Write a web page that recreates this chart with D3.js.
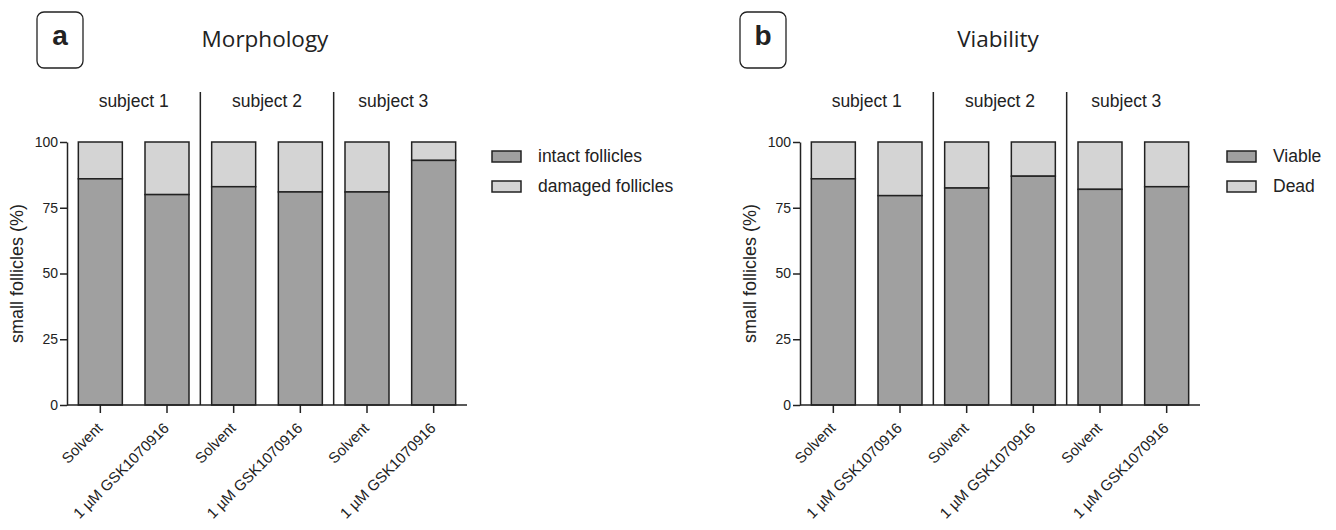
<!DOCTYPE html>
<html>
<head>
<meta charset="utf-8">
<script src="https://cdn.jsdelivr.net/npm/d3@7"></script>
<style>
  body { margin: 0; background: #fff; }
  svg { display: block; }
  text { fill: #222; }
</style>
</head>
<body>
<svg id="chart" width="1336" height="530"></svg>
<script>
// ---- data ----
const categories = ["Solvent", "1 \u00b5M GSK1070916", "Solvent", "1 \u00b5M GSK1070916", "Solvent", "1 \u00b5M GSK1070916"];
const subjects = ["subject 1", "subject 2", "subject 3"];
const yTicks = [0, 25, 50, 75, 100];
const morphIntact = [86, 80, 83, 81, 81, 93];
const viabViable = [86, 79.6, 82.5, 87, 82, 83];
const panelLetters = ["a", "b"];
const panelTitles = ["Morphology", "Viability"];
const legendA = ["intact follicles", "damaged follicles"];
const legendB = ["Viable", "Dead"];
const yLabel = "small follicles (%)";

const dark = "#a0a0a0", light = "#d4d4d4", ink = "#222";
const svg = d3.select("#chart");

function panel(opt) {
  const g = svg.append("g");
  const x0 = opt.x0, x1 = opt.x0 + 400;
  const yTop = 142, yBot = 405;
  const x = d3.scaleBand().domain(d3.range(categories.length)).range([x0, x1]).paddingInner(0.34).paddingOuter(0.17);
  const y = d3.scaleLinear().domain([0, 100]).range([yBot, yTop]);

  // letter box
  g.append("rect").attr("x", opt.boxX).attr("y", 12).attr("width", 46).attr("height", 56)
    .attr("rx", 7).attr("fill", "none").attr("stroke", ink).attr("stroke-width", 1.3);
  g.append("text").attr("x", opt.boxX + 23).attr("y", 45).attr("text-anchor", "middle")
    .attr("font-family", "Liberation Sans, Arial, sans-serif").attr("font-weight", "bold")
    .attr("font-size", 28).text(opt.letter);
  // title
  g.append("text").attr("x", (x0 + x1) / 2 - 2).attr("y", 47).attr("text-anchor", "middle")
    .attr("font-family", "Open Sans, sans-serif").attr("font-size", 22.5).text(opt.title);

  // bars
  const bars = g.append("g");
  opt.values.forEach((v, i) => {
    bars.append("rect").attr("x", x(i)).attr("width", x.bandwidth())
      .attr("y", y(100)).attr("height", y(v) - y(100))
      .attr("fill", light).attr("stroke", ink).attr("stroke-width", 1.5);
    bars.append("rect").attr("x", x(i)).attr("width", x.bandwidth())
      .attr("y", y(v)).attr("height", y(0) - y(v))
      .attr("fill", dark).attr("stroke", ink).attr("stroke-width", 1.5);
  });

  // separators and subject labels
  const step = x.step();
  subjects.forEach((s, k) => {
    const left = x0 + k * 2 * step, right = left + 2 * step;
    if (k > 0) {
      g.append("line").attr("x1", left).attr("x2", left).attr("y1", 92).attr("y2", yBot)
        .attr("stroke", ink).attr("stroke-width", 1.5);
    }
    g.append("text").attr("x", (left + right) / 2 - (k === 2 ? 7 : 0)).attr("y", 107).attr("text-anchor", "middle")
      .attr("font-family", "Liberation Sans, Arial, sans-serif").attr("font-size", 17.5).text(s);
  });

  // y axis
  const ya = g.append("g").attr("transform", `translate(${x0},0)`)
    .call(d3.axisLeft(y).tickValues(yTicks).tickSize(7).tickSizeOuter(0).tickPadding(2));
  ya.selectAll("path, line").attr("stroke", ink).attr("stroke-width", 1.5);
  ya.selectAll("text").attr("font-family", "Liberation Sans, Arial, sans-serif").attr("font-size", 14).attr("fill", "#333");

  // x axis
  const xa = g.append("g").attr("transform", `translate(0,${yBot})`)
    .call(d3.axisBottom(x).tickSize(8).tickSizeOuter(0).tickFormat(i => categories[i]));
  xa.select("path").attr("d", `M${x0},0H${x1}`);
  xa.selectAll("path, line").attr("stroke", ink).attr("stroke-width", 1.5);
  xa.selectAll("text").attr("font-family", "Liberation Sans, Arial, sans-serif").attr("font-size", 15)
    .attr("fill", "#222").attr("text-anchor", "end").attr("dy", null)
    .attr("transform", "translate(3,24) rotate(-45)").attr("y", 0).attr("x", 0);

  // y label
  g.append("text").attr("transform", `translate(${x0 - 44},${(yTop + yBot) / 2}) rotate(-90)`)
    .attr("text-anchor", "middle").attr("font-family", "Liberation Sans, Arial, sans-serif")
    .attr("font-size", 18).text(yLabel);

  // legend
  const lg = g.append("g").attr("transform", `translate(${x1 + opt.legendDx},0)`);
  opt.legend.forEach((t, k) => {
    lg.append("rect").attr("x", 0).attr("y", 151 + k * 30).attr("width", 29).attr("height", 11)
      .attr("fill", k === 0 ? dark : light).attr("stroke", ink).attr("stroke-width", 1.5);
    lg.append("text").attr("x", 46).attr("y", 162 + k * 30)
      .attr("font-family", "Liberation Sans, Arial, sans-serif").attr("font-size", 17.5).text(t);
  });
}

panel({x0: 67, boxX: 37, letter: panelLetters[0], title: panelTitles[0], values: morphIntact, legend: legendA, legendDx: 25});
panel({x0: 800, boxX: 740, letter: panelLetters[1], title: panelTitles[1], values: viabViable, legend: legendB, legendDx: 27});
</script>
</body>
</html>
